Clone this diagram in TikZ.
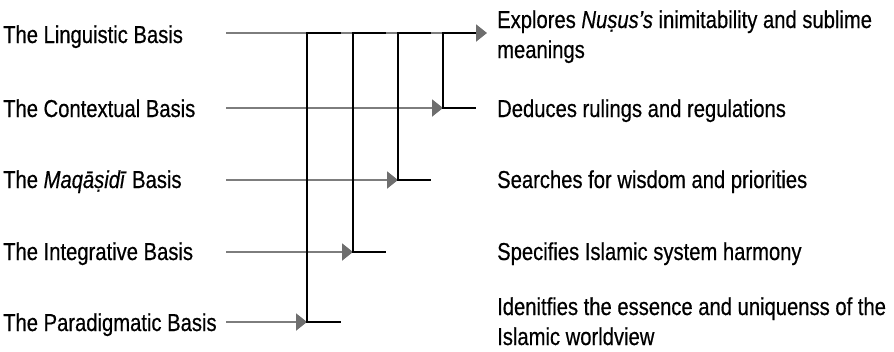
\documentclass[tikz,border=0pt]{standalone}
\usepackage{fontspec}
\setmainfont{Liberation Sans}[FakeStretch=0.825,FakeBold=0.5]
\usetikzlibrary{arrows.meta}
\definecolor{linegray}{RGB}{125,125,125}
\definecolor{tipgray}{RGB}{110,110,110}
\tikzset{
  lefttext/.style={anchor=base west, inner sep=0pt, font=\fontsize{24.5}{30}\selectfont},
  righttext/.style={anchor=base west, inner sep=0pt, align=left, font=\fontsize{24.5}{30}\selectfont},
  feed/.style={draw=linegray, line width=2pt, -{Triangle[length=11pt,width=17pt,color=tipgray]}},
  bracketline/.style={draw=black, line width=2pt, line join=miter}
}
\begin{document}
\begin{tikzpicture}[x=1pt,y=-1pt]
\useasboundingbox (0,0) rectangle (894,351);
% left labels
\node[lefttext] (L1) at (3,43) {The Linguistic Basis};
\node[lefttext] (L2) at (3,117) {The Contextual Basis};
\node[lefttext] (L3) at (3,188) {The \textit{Maqāṣidī} Basis};
\node[lefttext] (L4) at (3,260) {The Integrative Basis};
\node[lefttext] (L5) at (3,331) {The Paradigmatic Basis};
% right labels (base anchor = last line)
\node[righttext] (R1) at (497,58) {Explores \textit{Nuṣus’s} inimitability and sublime\\meanings};
\node[righttext] (R2) at (497,117) {Deduces rulings and regulations};
\node[righttext] (R3) at (497,188) {Searches for wisdom and priorities};
\node[righttext] (R4) at (497,260) {Specifies Islamic system harmony};
\node[righttext] (R5) at (497,345) {Idenitfies the essence and uniquenss of the\\Islamic worldview};
% line start points
\coordinate (s1) at (226,33);
\coordinate (s2) at (226,108);
\coordinate (s3) at (226,180);
\coordinate (s4) at (226,252);
\coordinate (s5) at (226,322);
% bracket corners
\coordinate (t1) at (487,33);
\coordinate (b2) at (443,108);
\coordinate (b3) at (398,180);
\coordinate (b4) at (353,252);
\coordinate (b5) at (307,322);
% grey feed arrows
\draw[feed] (s1) -- (t1);
\draw[feed] (s2) -- (b2);
\draw[feed] (s3) -- (b3);
\draw[feed] (s4) -- (b4);
\draw[feed] (s5) -- (b5);
% black brackets
\draw[bracketline] (341,33) -| (b5) -- ++(34,0);
\draw[bracketline] (386,33) -| (b4) -- ++(33,0);
\draw[bracketline] (431,33) -| (b3) -- ++(33,0);
\draw[bracketline] (476,33) -| (b2) -- ++(33,0);
\end{tikzpicture}
\end{document}
